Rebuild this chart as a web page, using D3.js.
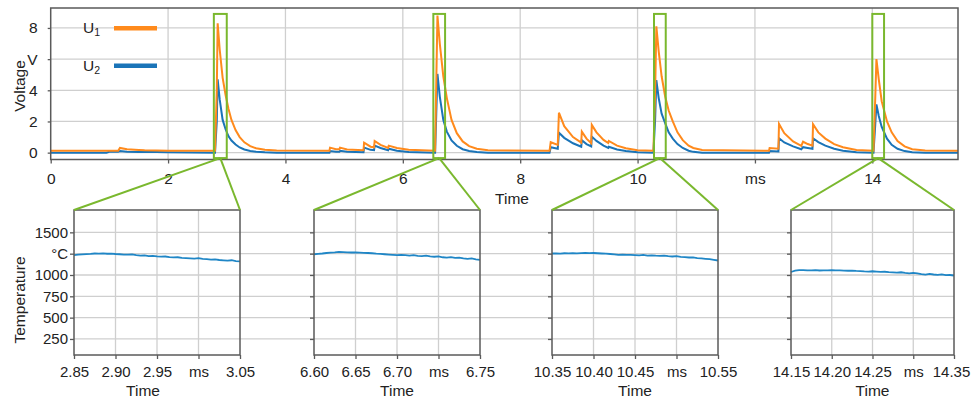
<!DOCTYPE html>
<html>
<head>
<meta charset="utf-8">
<script src="https://cdn.jsdelivr.net/npm/d3@7"></script>
<style>
  body { margin: 0; background: #fff; }
  svg text { font-family: "Liberation Sans", Arial, sans-serif; fill: #222; }
</style>
</head>
<body>
<svg id="chart" width="971" height="401"></svg>
<script>
// voltage traces (ms, V)
const timeMs = [0, 0.95, 1.0, 1.15, 1.18, 1.3, 1.5, 1.6, 2.0, 2.8,
  2.83, 2.845, 2.88, 2.93, 2.98, 3.03, 3.08, 3.15, 3.22, 3.3, 3.4, 3.5, 3.65, 3.85,
  4.75, 4.76, 4.86, 4.92, 4.93, 5.05, 5.33, 5.34, 5.45, 5.51, 5.52, 5.62, 5.75, 5.76, 5.9, 6.1, 6.55,
  6.57, 6.59, 6.63, 6.69, 6.75, 6.83, 6.92, 7.02, 7.13, 7.26, 7.45,
  8.5, 8.52, 8.64, 8.66, 8.75, 8.9, 9.04, 9.05, 9.13, 9.21, 9.22, 9.3, 9.42, 9.5, 9.51, 9.65, 9.8, 10.0, 10.27,
  10.3, 10.32, 10.36, 10.41, 10.47, 10.53, 10.6, 10.68, 10.77, 10.87, 10.95, 11.1,
  12.24, 12.25, 12.4, 12.41, 12.5, 12.65, 12.79, 12.82, 12.9, 12.98, 12.99, 13.08, 13.2, 13.35, 13.5, 13.73, 14.02,
  14.05, 14.07, 14.11, 14.16, 14.25, 14.33, 14.43, 14.55, 14.68, 14.9, 15.46];
const u1 = [0.12, 0.12, 0.12, 0.12, 0.3, 0.22, 0.17, 0.15, 0.12, 0.12,
  4.0, 8.3, 6.6, 4.8, 3.7, 2.8, 2.1, 1.45, 1.0, 0.66, 0.42, 0.28, 0.18, 0.13,
  0.12, 0.32, 0.22, 0.22, 0.32, 0.2, 0.15, 0.64, 0.38, 0.34, 0.75, 0.5, 0.3, 0.45, 0.3, 0.18, 0.12,
  4.5, 8.8, 7.0, 4.9, 3.5, 2.1, 1.25, 0.72, 0.42, 0.25, 0.15,
  0.12, 0.67, 0.5, 2.56, 1.7, 1.0, 0.64, 1.35, 0.9, 0.6, 1.78, 1.3, 0.82, 0.62, 0.75, 0.45, 0.28, 0.15, 0.12,
  4.0, 8.1, 6.5, 4.9, 3.6, 2.7, 2.0, 1.3, 0.8, 0.45, 0.3, 0.17,
  0.12, 0.3, 0.25, 1.84, 1.25, 0.72, 0.43, 0.7, 0.55, 0.45, 1.82, 1.3, 0.9, 0.55, 0.35, 0.17, 0.12,
  3.5, 6.0, 4.7, 3.3, 2.0, 1.3, 0.75, 0.4, 0.22, 0.13, 0.12];
const u2 = [0.0, 0.0, 0.05, 0.05, 0.1, 0.06, 0.04, 0.06, 0.03, 0.0,
  2.0, 4.7, 3.4, 2.1, 1.5, 1.05, 0.78, 0.52, 0.33, 0.2, 0.1, 0.05, 0.02, 0.0,
  0.0, 0.1, 0.06, 0.06, 0.12, 0.06, 0.03, 0.32, 0.18, 0.16, 0.45, 0.3, 0.15, 0.25, 0.12, 0.04, 0.0,
  2.5, 5.05, 3.6, 2.1, 1.35, 0.78, 0.44, 0.22, 0.1, 0.04, 0.0,
  0.0, 0.35, 0.25, 1.28, 0.95, 0.6, 0.38, 0.8, 0.55, 0.4, 1.03, 0.75, 0.45, 0.3, 0.38, 0.2, 0.1, 0.02, 0.0,
  2.2, 4.66, 3.5, 2.5, 1.9, 1.3, 0.9, 0.55, 0.3, 0.12, 0.05, 0.0,
  0.0, 0.1, 0.08, 0.92, 0.65, 0.4, 0.22, 0.35, 0.3, 0.25, 0.92, 0.68, 0.45, 0.25, 0.12, 0.02, 0.0,
  1.8, 3.1, 2.35, 1.65, 0.9, 0.5, 0.25, 0.1, 0.03, 0.0, 0.0];

const xTicks = [0, 2, 4, 6, 8, 10, 12, 14];
const xTickLabels = ["0", "2", "4", "6", "8", "10", "ms", "14"];
const yTicks = [0, 2, 4, 6, 8];
const yTickLabels = ["0", "2", "4", "V", "8"];

// zoom windows marked on the voltage plot (ms)
const zoomBoxes = [[2.78, 3.0], [6.52, 6.72], [10.28, 10.48], [14.0, 14.2]];

// temperature insets: start time, step 0.005 ms
const insetStart = [2.85, 6.60, 10.35, 14.15];
const insetTickLabels = [
  ["2.85", "2.90", "2.95", "ms", "3.05"],
  ["6.60", "6.65", "6.70", "ms", "6.75"],
  ["10.35", "10.40", "10.45", "ms", "10.55"],
  ["14.15", "14.20", "14.25", "ms", "14.35"]
];
const temp1 = [1232, 1238, 1241, 1244, 1247, 1252, 1250, 1254, 1249, 1251, 1246, 1243, 1240, 1238, 1241, 1233, 1228, 1230, 1222, 1224, 1218, 1215, 1217, 1210, 1206, 1208, 1201, 1198, 1196, 1193, 1197, 1189, 1185, 1180, 1184, 1176, 1172, 1168, 1173, 1163, 1160];
const temp2 = [1243, 1248, 1252, 1258, 1262, 1265, 1270, 1268, 1266, 1264, 1265, 1262, 1260, 1258, 1255, 1250, 1247, 1243, 1240, 1237, 1234, 1236, 1232, 1228, 1232, 1225, 1222, 1226, 1218, 1214, 1219, 1208, 1203, 1210, 1200, 1204, 1196, 1190, 1194, 1183, 1178];
const temp3 = [1252, 1254, 1251, 1255, 1253, 1256, 1254, 1257, 1259, 1256, 1258, 1255, 1252, 1250, 1246, 1242, 1236, 1238, 1235, 1237, 1234, 1231, 1235, 1228, 1230, 1226, 1224, 1228, 1220, 1217, 1222, 1212, 1210, 1205, 1207, 1198, 1195, 1190, 1186, 1178, 1170];
const temp4 = [1035, 1050, 1056, 1058, 1055, 1054, 1056, 1053, 1055, 1054, 1056, 1053, 1054, 1052, 1050, 1052, 1048, 1046, 1042, 1040, 1044, 1040, 1036, 1038, 1033, 1030, 1028, 1032, 1024, 1020, 1024, 1018, 1010, 1004, 1012, 1006, 1002, 1008, 998, 1000, 994];
const temps = [temp1, temp2, temp3, temp4];
const tempTicks = [250, 500, 750, 1000, 1250, 1500];
const tempTickLabels = ["250", "500", "750", "1000", "°C", "1500"];

const orange = "#ff8a1c";
const blue = "#1a74b8";
const green = "#7ab82e";
const gridColor = "#cfcfcf";
const frameColor = "#5a5a5a";
const fontSize = "15.5px";

const svg = d3.select("#chart");

// ---------- voltage plot ----------
const x = d3.scaleLinear().domain([0, 15.46]).range([50.7, 958]);
const y = d3.scaleLinear().domain([-0.44, 9.28]).range([159.5, 8]);

const grid = svg.append("g");
grid.selectAll(".vg").data(xTicks.slice(1)).enter().append("line")
  .attr("x1", d => x(d)).attr("x2", d => x(d))
  .attr("y1", y.range()[1]).attr("y2", y.range()[0])
  .attr("stroke", gridColor).attr("stroke-width", 1.3);
grid.selectAll(".hg").data(yTicks).enter().append("line")
  .attr("x1", x.range()[0]).attr("x2", x.range()[1])
  .attr("y1", d => y(d)).attr("y2", d => y(d))
  .attr("stroke", gridColor).attr("stroke-width", 1.3);

let line = d3.line()
  .x((d, i) => x(timeMs[i]))
  .y(d => y(d));

svg.append("path").datum(u2).attr("d", line)
  .attr("fill", "none").attr("stroke", blue).attr("stroke-width", 2);
svg.append("path").datum(u1).attr("d", line)
  .attr("fill", "none").attr("stroke", orange).attr("stroke-width", 2);

svg.append("rect")
  .attr("x", x.range()[0]).attr("y", y.range()[1])
  .attr("width", x.range()[1] - x.range()[0])
  .attr("height", y.range()[0] - y.range()[1])
  .attr("fill", "none").attr("stroke", frameColor).attr("stroke-width", 1.5);

let xAxis = d3.axisBottom(x)
  .tickValues(xTicks)
  .tickFormat((d, i) => xTickLabels[i])
  .tickSize(4).tickPadding(9).tickSizeOuter(0);
let gx = svg.append("g")
  .attr("transform", "translate(0," + y.range()[0] + ")")
  .call(xAxis);
gx.select(".domain").remove();

let yAxis = d3.axisLeft(y)
  .tickValues(yTicks)
  .tickFormat((d, i) => yTickLabels[i])
  .tickSize(3).tickPadding(10).tickSizeOuter(0);
let gy = svg.append("g")
  .attr("transform", "translate(" + x.range()[0] + ",0)")
  .call(yAxis);
gy.select(".domain").remove();

svg.selectAll(".tick line").attr("stroke", frameColor).attr("stroke-width", 1.3);
svg.selectAll(".tick text").style("font-size", fontSize).attr("fill", "#222");

svg.append("text").attr("x", 512).attr("y", 204)
  .attr("text-anchor", "middle").style("font-size", fontSize).text("Time");
svg.append("text")
  .attr("transform", "translate(25,86) rotate(-90)")
  .attr("text-anchor", "middle").style("font-size", fontSize).text("Voltage");

// legend
const legend = [["1", orange, 33.3, 28.3], ["2", blue, 70.7, 65.7]];
legend.forEach(l => {
  let t = svg.append("text").attr("x", 83).attr("y", l[2]).style("font-size", fontSize);
  t.append("tspan").text("U");
  t.append("tspan").attr("dy", 3).style("font-size", "10.5px").text(l[0]);
  svg.append("line")
    .attr("x1", 114).attr("x2", 157).attr("y1", l[3]).attr("y2", l[3])
    .attr("stroke", l[1]).attr("stroke-width", 4.5);
});

// ---------- temperature insets ----------
const insetTop = 210, insetBottom = 355;
const insetLeft = [74, 314, 552, 791];
const insetRight = [240, 480, 718, 954];
const yT = d3.scaleLinear().domain([62, 1762]).range([insetBottom, insetTop]);

svg.append("g").selectAll("line").data(tempTicks).enter().append("line")
  .attr("x1", insetLeft[0]).attr("x2", insetRight[3])
  .attr("y1", d => yT(d)).attr("y2", d => yT(d))
  .attr("stroke", gridColor).attr("stroke-width", 1.3);

const boxTop = y(8.9), boxBottom = y(-0.35);
const titleShift = [-14, 0, 0, 0];

insetStart.forEach((s, k) => {
  let left = insetLeft[k], right = insetRight[k];
  let xt = d3.scaleLinear().domain([s, s + 0.2]).range([left, right]);
  let ticks = [0, 1, 2, 3, 4].map(j => s + j * 0.05);

  svg.append("g").selectAll("line").data(ticks.slice(1, 4)).enter().append("line")
    .attr("x1", d => xt(d)).attr("x2", d => xt(d))
    .attr("y1", insetTop).attr("y2", insetBottom)
    .attr("stroke", gridColor).attr("stroke-width", 1.3);

  let tline = d3.line()
    .x((d, i) => xt(s + i * 0.005))
    .y(d => yT(d));
  svg.append("path").datum(temps[k]).attr("d", tline)
    .attr("fill", "none").attr("stroke", "#1f86c6").attr("stroke-width", 1.8);

  svg.append("rect")
    .attr("x", left).attr("y", insetTop)
    .attr("width", right - left).attr("height", insetBottom - insetTop)
    .attr("fill", "none").attr("stroke", frameColor).attr("stroke-width", 1.5);

  let ax = d3.axisBottom(xt).tickValues(ticks)
    .tickFormat((d, i) => insetTickLabels[k][i])
    .tickSize(4).tickPadding(7).tickSizeOuter(0);
  let g1 = svg.append("g").attr("transform", "translate(0," + insetBottom + ")").call(ax);
  g1.select(".domain").remove();

  let ay = d3.axisLeft(yT).tickValues(tempTicks)
    .tickFormat((d, i) => k === 0 ? tempTickLabels[i] : "")
    .tickSize(4).tickPadding(2).tickSizeOuter(0);
  let g2 = svg.append("g").attr("transform", "translate(" + left + ",0)").call(ay);
  g2.select(".domain").remove();

  [g1, g2].forEach(g => {
    g.selectAll(".tick line").attr("stroke", frameColor).attr("stroke-width", 1.3);
    g.selectAll(".tick text").style("font-size", "15px").attr("fill", "#222");
  });
  if (k === 3) {
    g1.selectAll(".tick text").filter((d, i) => i === 4).attr("dx", -3);
  }

  svg.append("text").attr("x", (left + right) / 2 + titleShift[k]).attr("y", 396)
    .attr("text-anchor", "middle").style("font-size", fontSize).text("Time");

  // marker box and connectors
  let b = zoomBoxes[k];
  let cx = (x(b[0]) + x(b[1])) / 2;
  svg.append("rect")
    .attr("x", x(b[0])).attr("y", boxTop)
    .attr("width", x(b[1]) - x(b[0])).attr("height", boxBottom - boxTop)
    .attr("fill", "none").attr("stroke", green).attr("stroke-width", 2);
  [left, right].forEach(ex => {
    svg.append("line")
      .attr("x1", cx).attr("y1", boxBottom)
      .attr("x2", ex).attr("y2", insetTop)
      .attr("stroke", green).attr("stroke-width", 2);
  });
});

svg.append("text")
  .attr("transform", "translate(25,300) rotate(-90)")
  .attr("text-anchor", "middle").style("font-size", fontSize).text("Temperature");
</script>
</body>
</html>
